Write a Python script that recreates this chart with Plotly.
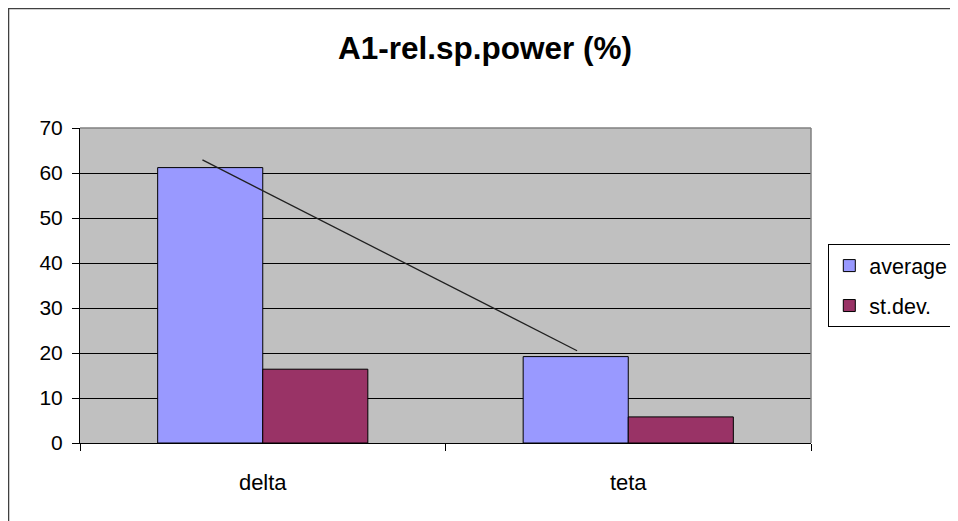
import plotly.graph_objects as go

categories = ["delta", "teta"]
cat_pos = [0, 1]
average = [61.2, 19.2]
st_dev = [16.4, 5.8]
# freehand line drawn over the chart (x in category units, y in %)
line_x = [-0.165, 0.86]
line_y = [62.9, 20.5]
y_ticks = [0, 10, 20, 30, 40, 50, 60, 70]

FONT = "Arial, Liberation Sans, sans-serif"

# the page body has an 8px margin, so the figure is laid out 8px smaller
W, H = 950, 513
L, R, T, B = 72, 147.3, 120, 78.3
PW, PH = W - L - R, H - T - B


def px(xf):
    return (xf - L) / PW


def py(yf):
    return 1 + (T - yf) / PH


fig = go.Figure()
fig.add_trace(go.Bar(name="average", x=cat_pos, y=average, legendgroup="a",
                     marker=dict(color="#9999FF", line=dict(color="black", width=1))))
fig.add_trace(go.Bar(name="st.dev.", x=cat_pos, y=st_dev, legendgroup="b",
                     marker=dict(color="#993366", line=dict(color="black", width=1))))
fig.add_trace(go.Scatter(x=line_x, y=line_y, mode="lines", showlegend=False,
                         line=dict(color="#202020", width=1.3)))

fig.update_layout(
    width=W, height=H,
    margin=dict(l=L, r=R, t=T, b=B, autoexpand=False),
    paper_bgcolor="white", plot_bgcolor="#C0C0C0",
    barmode="group", bargap=0.425, bargroupgap=0,
    font=dict(family=FONT, color="black"),
    title=dict(text="<b>A1-rel.sp.power (%)</b>", x=477 / W, xanchor="center",
               y=1 - 40 / H, yanchor="middle", font=dict(size=31.5, family=FONT)),
    showlegend=True,
    legend=dict(x=px(820), xanchor="left", y=py(236), yanchor="top",
                bordercolor="black", borderwidth=1, bgcolor="white",
                tracegroupgap=9,
                font=dict(size=21.5, family=FONT)),
    xaxis=dict(range=[-0.5, 1.5], tickvals=cat_pos, ticktext=categories,
               ticks="", showgrid=False, zeroline=False,
               showline=True, linecolor="black", linewidth=1,
               tickfont=dict(size=22), ticklabelstandoff=20,
               minor=dict(tick0=-0.5, dtick=1, ticks="outside", ticklen=7,
                          tickcolor="black", showgrid=False)),
    yaxis=dict(range=[0, 70], tickvals=y_ticks, ticks="outside", ticklen=7,
               tickcolor="black", showgrid=True, gridcolor="black", gridwidth=1,
               zeroline=False, showline=True, linecolor="black", linewidth=1,
               tickfont=dict(size=21), ticklabelstandoff=5),
    shapes=[
        dict(type="line", xref="paper", yref="paper", x0=0, x1=1, y0=1, y1=1,
             line=dict(color="#808080", width=1.5), layer="above"),
        dict(type="line", xref="paper", yref="paper", x0=1, x1=1, y0=0, y1=1,
             line=dict(color="#808080", width=1.5), layer="above"),
        # outer chart border (top and left visible)
        dict(type="line", xref="paper", yref="paper",
             x0=px(0), x1=px(W + 5), y0=py(0.3), y1=py(0.3),
             line=dict(color="#404040", width=2)),
        dict(type="line", xref="paper", yref="paper",
             x0=px(0.3), x1=px(0.3), y0=py(0), y1=py(H + 5),
             line=dict(color="#404040", width=2)),
    ],
)

fig.write_html("out.html")
